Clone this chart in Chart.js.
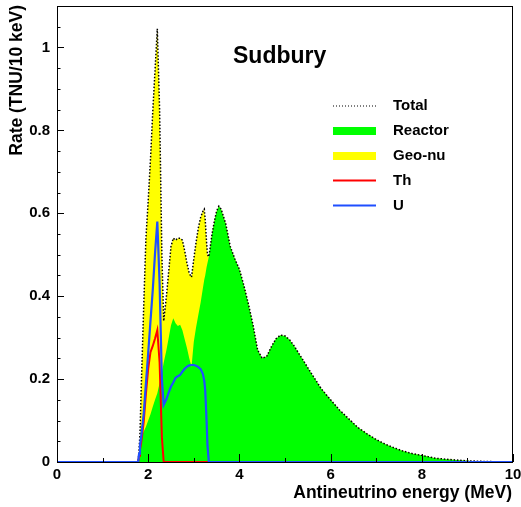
<!DOCTYPE html>
<html>
<head>
<meta charset="utf-8">
<script src="https://cdn.jsdelivr.net/npm/chart.js@4.4.1/dist/chart.umd.min.js"></script>
<style>
  html, body { margin: 0; padding: 0; background: #ffffff; }
  #wrap { position: relative; width: 521px; height: 507px; }
  canvas { display: block; }
</style>
</head>
<body>
<div id="wrap"><canvas id="c" width="521" height="507"></canvas></div>
<script>
// ---- Data ----
const energy = [
  0, 1.75, 1.78, 1.8, 1.82, 1.85, 1.9, 1.95, 2.0, 2.05,
  2.1, 2.15, 2.2, 2.25, 2.3, 2.34, 2.4, 2.45, 2.5, 2.55,
  2.6, 2.65, 2.7, 2.75, 2.8, 2.85, 2.9, 2.95, 3.0, 3.05,
  3.1, 3.15, 3.2, 3.23, 3.25, 3.28, 3.3, 3.33, 3.35, 3.4,
  3.45, 3.5, 3.55, 3.6, 3.7, 3.8, 3.9, 4.0, 4.1, 4.2,
  4.3, 4.4, 4.5, 4.6, 4.7, 4.8, 4.9, 5.0, 5.1, 5.2,
  5.4, 5.6, 5.8, 6.0, 6.2, 6.4, 6.6, 6.8, 7.0, 7.2,
  7.4, 7.6, 7.8, 8.0, 8.3, 8.6, 8.9, 9.2, 9.5, 10
];
const totalRate = [
  0, 0, 0, 0.03, 0.07, 0.19, 0.37, 0.54, 0.63, 0.73,
  0.845, 0.945, 1.045, 0.85, 0.5, 0.34, 0.40, 0.46, 0.52, 0.54,
  0.535, 0.54, 0.54, 0.535, 0.51, 0.48, 0.455, 0.446, 0.49, 0.53,
  0.565, 0.59, 0.605, 0.61, 0.585, 0.53, 0.5, 0.495, 0.51, 0.55,
  0.58, 0.605, 0.617, 0.61, 0.575, 0.52, 0.49, 0.465, 0.425, 0.38,
  0.33, 0.27, 0.25, 0.255, 0.278, 0.297, 0.306, 0.304, 0.295, 0.28,
  0.245, 0.21, 0.176, 0.15, 0.125, 0.104, 0.083, 0.068, 0.054, 0.043,
  0.034, 0.026, 0.02, 0.016, 0.009, 0.006, 0.0035, 0.002, 0.001, 0
];
const reactorRate = [
  0, 0, 0, 0.01, 0.05, 0.062, 0.073, 0.085, 0.1, 0.115,
  0.133, 0.15, 0.166, 0.19, 0.215, 0.24, 0.27, 0.30, 0.33, 0.347,
  0.335, 0.328, 0.331, 0.318, 0.296, 0.275, 0.25, 0.23, 0.29, 0.325,
  0.355, 0.385, 0.42, 0.44, 0.45, 0.47, 0.48, 0.495, 0.51, 0.55,
  0.58, 0.605, 0.617, 0.61, 0.575, 0.52, 0.49, 0.465, 0.425, 0.38,
  0.33, 0.27, 0.25, 0.255, 0.278, 0.297, 0.306, 0.304, 0.295, 0.28,
  0.245, 0.21, 0.176, 0.15, 0.125, 0.104, 0.083, 0.068, 0.054, 0.043,
  0.034, 0.026, 0.02, 0.016, 0.009, 0.006, 0.0035, 0.002, 0.001, 0
];
const thEnergy = [0, 1.78, 1.8, 1.82, 1.85, 1.9, 1.95, 2.0, 2.05, 2.1, 2.15, 2.2, 2.25, 2.3, 2.34, 10];
const thRate   = [0, 0, 0.015, 0.03, 0.05, 0.095, 0.165, 0.225, 0.265, 0.28, 0.298, 0.318, 0.24, 0.06, 0, 0];
const uEnergy = [
  0, 1.78, 1.8, 1.82, 1.85, 1.9, 1.95, 2.0, 2.05, 2.1,
  2.15, 2.2, 2.25, 2.3, 2.34, 2.4, 2.45, 2.5, 2.55, 2.6,
  2.65, 2.7, 2.75, 2.8, 2.85, 2.9, 2.95, 3.0, 3.05, 3.1,
  3.15, 3.2, 3.23, 3.25, 3.28, 3.3, 3.33, 10
];
const uRate = [
  0, 0, 0.02, 0.04, 0.065, 0.115, 0.19, 0.263, 0.34, 0.415,
  0.504, 0.58, 0.43, 0.2, 0.138, 0.152, 0.168, 0.182, 0.192, 0.203,
  0.207, 0.21, 0.218, 0.225, 0.23, 0.233, 0.234, 0.234, 0.232, 0.229,
  0.224, 0.212, 0.195, 0.174, 0.1, 0.04, 0, 0
];
const xTicks = [0, 2, 4, 6, 8, 10];
const yTickLabels = ['0', '0.2', '0.4', '0.6', '0.8', '1'];
const legendLabels = ['Total', 'Reactor', 'Geo-nu', 'Th', 'U'];
const titleText = 'Sudbury';
const xTitle = 'Antineutrino energy (MeV)';
const yTitle = 'Rate (TNU/10 keV)';

// ---- Styles ----
const GREEN = '#00ff00', YELLOW = '#ffff00', RED = '#ff0000', BLUE = '#1f4fff';
const FONT = "'Liberation Sans', Arial, Helvetica, sans-serif";

const pts = (xs, ys) => xs.map((x, i) => ({ x: x, y: ys[i] }));

function zeroPad(s) { s.paddingTop = 0; s.paddingBottom = 0; s.paddingLeft = 0; s.paddingRight = 0; }

const decorPlugin = {
  id: 'decor',
  afterDraw(chart) {
    const ctx = chart.ctx;
    const a = chart.chartArea;
    const xs = chart.scales.x, ys = chart.scales.y;
    ctx.save();
    // frame
    ctx.strokeStyle = '#000';
    ctx.lineWidth = 1;
    ctx.strokeRect(a.left + 0.5, a.top + 0.5, a.right - a.left - 1, a.bottom - a.top);
    // y ticks
    ctx.beginPath();
    for (let k = 0; k <= 22; k++) {
      const v = k * 0.05;
      if (v > ys.max + 1e-9) break;
      const py = Math.round(ys.getPixelForValue(v)) + 0.5;
      const len = (k % 4 === 0) ? 7 : 3.5;
      ctx.moveTo(a.left, py);
      ctx.lineTo(a.left + len, py);
    }
    // x ticks
    for (let k = 0; k <= 10; k++) {
      const px = Math.round(xs.getPixelForValue(k)) + 0.5;
      const len = (k % 2 === 0) ? 8 : 4;
      ctx.moveTo(px, a.bottom);
      ctx.lineTo(px, a.bottom - len);
    }
    ctx.stroke();

    // axis titles
    ctx.fillStyle = '#000';
    ctx.font = 'bold 17.5px ' + FONT;
    ctx.textAlign = 'right';
    ctx.textBaseline = 'middle';
    ctx.fillText(xTitle, 512, 493);
    ctx.save();
    ctx.translate(17.5, 5);
    ctx.rotate(-Math.PI / 2);
    ctx.textAlign = 'right';
    ctx.fillText(yTitle, 0, 0);
    ctx.restore();

    // title
    ctx.font = 'bold 23px ' + FONT;
    ctx.textAlign = 'left';
    ctx.fillText(titleText, 233, 57);

    // legend
    const lx0 = 333, lx1 = 376, tx = 393;
    const rows = [106, 131, 156, 180.5, 205.5];
    ctx.font = 'bold 15px ' + FONT;
    ctx.strokeStyle = '#000';
    ctx.lineWidth = 1.2;
    ctx.setLineDash([1, 2]);
    ctx.beginPath(); ctx.moveTo(lx0, rows[0]); ctx.lineTo(lx1, rows[0]); ctx.stroke();
    ctx.setLineDash([]);
    ctx.fillStyle = GREEN; ctx.fillRect(lx0, rows[1] - 4, lx1 - lx0, 8);
    ctx.fillStyle = YELLOW; ctx.fillRect(lx0, rows[2] - 4, lx1 - lx0, 8);
    ctx.strokeStyle = RED; ctx.lineWidth = 2;
    ctx.beginPath(); ctx.moveTo(lx0, rows[3]); ctx.lineTo(lx1, rows[3]); ctx.stroke();
    ctx.strokeStyle = BLUE; ctx.lineWidth = 2;
    ctx.beginPath(); ctx.moveTo(lx0, rows[4]); ctx.lineTo(lx1, rows[4]); ctx.stroke();
    ctx.fillStyle = '#000';
    ctx.textAlign = 'left';
    ctx.textBaseline = 'middle';
    legendLabels.forEach((t, i) => ctx.fillText(t, tx, rows[i]));
    ctx.restore();
  }
};

new Chart(document.getElementById('c'), {
  type: 'line',
  data: {
    datasets: [
      { label: 'Geo-nu', data: pts(energy, totalRate), borderWidth: 0, borderColor: 'rgba(0,0,0,0)',
        backgroundColor: YELLOW, fill: 'origin', order: 5 },
      { label: 'Reactor', data: pts(energy, reactorRate), borderWidth: 0, borderColor: 'rgba(0,0,0,0)',
        backgroundColor: GREEN, fill: 'origin', order: 4 },
      { label: 'Total', data: pts(energy, totalRate), borderWidth: 1.5, borderColor: '#000',
        borderDash: [1.5, 1.8], fill: false, order: 3 },
      { label: 'Th', data: pts(thEnergy, thRate), borderWidth: 2, borderColor: RED, fill: false, order: 2 },
      { label: 'U', data: pts(uEnergy, uRate), borderWidth: 2.2, borderColor: BLUE, fill: false, order: 1 }
    ]
  },
  options: {
    responsive: false,
    animation: false,
    devicePixelRatio: 1,
    layout: { padding: { top: 6, right: 8, left: 0, bottom: 0 } },
    elements: { point: { radius: 0 }, line: { tension: 0 } },
    plugins: { legend: { display: false }, tooltip: { enabled: false }, title: { display: false } },
    scales: {
      x: {
        type: 'linear', min: 0, max: 10,
        grid: { display: false, drawTicks: false, tickLength: 0 }, border: { display: false },
        afterFit: (s) => { s.height = 45; zeroPad(s); },
        afterBuildTicks: (s) => { s.ticks = xTicks.map(v => ({ value: v })); },
        ticks: { autoSkip: false, maxRotation: 0, padding: 4, color: '#000',
                 font: { family: FONT, size: 15, weight: 'bold' },
                 callback: (v) => String(v) }
      },
      y: {
        type: 'linear', min: 0, max: 1.1,
        grid: { display: false, drawTicks: false, tickLength: 0 }, border: { display: false },
        afterFit: (s) => { s.width = 57; zeroPad(s); },
        afterBuildTicks: (s) => { s.ticks = yTickLabels.map(t => ({ value: parseFloat(t) })); },
        ticks: { autoSkip: false, padding: 7, color: '#000',
                 font: { family: FONT, size: 15, weight: 'bold' },
                 callback: (v, i) => yTickLabels[i] }
      }
    }
  },
  plugins: [decorPlugin]
});
</script>
</body>
</html>
